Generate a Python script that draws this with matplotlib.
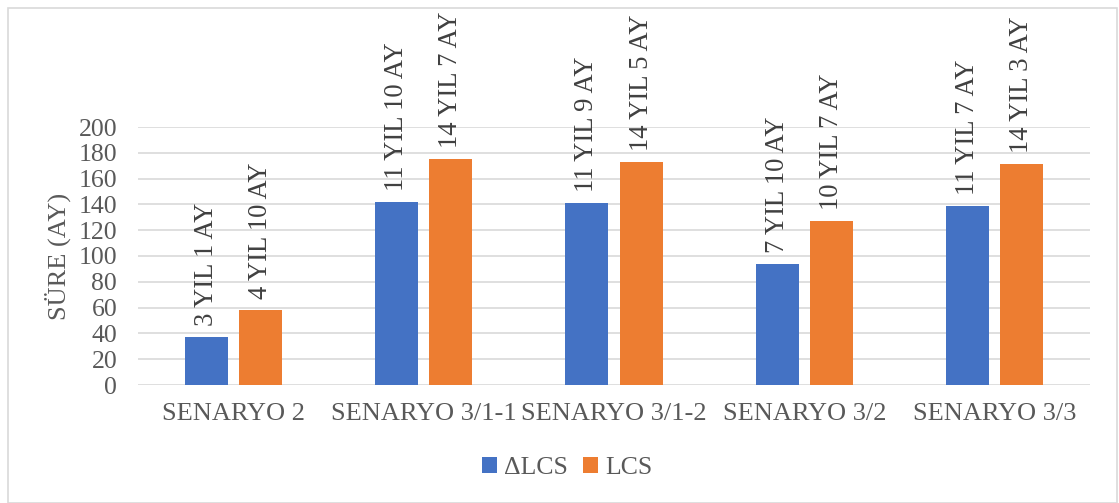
import matplotlib
matplotlib.use("Agg")
import matplotlib.pyplot as plt
from matplotlib.patches import Rectangle
import numpy as np

plt.rcParams['font.family'] = ['Liberation Serif', 'DejaVu Serif']

categories = ["SENARYO 2", "SENARYO 3/1-1", "SENARYO 3/1-2", "SENARYO 3/2", "SENARYO 3/3"]
delta_lcs = [37, 142, 141, 94, 139]
lcs = [58, 175, 173, 127, 171]
delta_labels = ["3 YIL 1 AY", "11 YIL 10 AY", "11 YIL 9 AY", "7 YIL 10 AY", "11 YIL 7 AY"]
lcs_labels = ["4 YIL 10 AY", "14 YIL 7 AY", "14 YIL 5 AY", "10 YIL 7 AY", "14 YIL 3 AY"]
yticks = [0, 20, 40, 60, 80, 100, 120, 140, 160, 180, 200]

W, H = 1119, 503
fig = plt.figure(figsize=(W / 100, H / 100), dpi=100)
ax = fig.add_axes([138 / W, (H - 385) / H, 952 / W, (385 - 127) / H])

blue = "#4472C4"
orange = "#ED7D31"
tick_color = "#595959"
label_color = "#404040"
fs = 18.5

x = np.arange(len(categories))
bw = 0.226
off = 0.142
b1 = ax.bar(x - off, delta_lcs, bw, color=blue, label="\u0394LCS", zorder=3)
b2 = ax.bar(x + off, lcs, bw, color=orange, label="LCS", zorder=3)

for bars, texts in ((b1, delta_labels), (b2, lcs_labels)):
    for rect, t in zip(bars, texts):
        ax.annotate(t, (rect.get_x() + rect.get_width() / 2, rect.get_height()),
                    xytext=(0, 8), textcoords="offset points",
                    rotation=90, ha="center", va="bottom",
                    fontsize=19.2, color=label_color, clip_on=False)

ax.set_xlim(-0.5, len(categories) - 0.5)
ax.set_ylim(0, 200)
ax.set_yticks(yticks)
ax.set_xticks(x)
ax.set_xticklabels(categories)
ax.yaxis.grid(True, color="#D9D9D9", linewidth=1.2, zorder=0)
ax.set_axisbelow(True)
for s in ax.spines.values():
    s.set_visible(False)
ax.tick_params(axis="y", length=0, pad=15, labelsize=fs, labelcolor=tick_color)
ax.tick_params(axis="x", length=0, pad=13, labelsize=19, labelcolor=tick_color)
ax.set_ylabel("SÜRE (AY)", fontsize=19, color=tick_color)
ax.yaxis.set_label_coords((71 - 138) / 952, 0.5)

fig.legend(handles=[b1, b2], loc="center", bbox_to_anchor=(567 / W, 1 - 468 / H),
           ncol=2, frameon=False, fontsize=fs, labelcolor=tick_color,
           handlelength=0.6, handleheight=0.6, handletextpad=0.25, columnspacing=0.6)

fig.patches.append(Rectangle((8 / W, 0.5 / H), (1117 - 8) / W, (H - 8.5) / H,
                             transform=fig.transFigure, fill=False,
                             edgecolor="#D9D9D9", linewidth=1.2))

fig.savefig("out.png", dpi=100)
